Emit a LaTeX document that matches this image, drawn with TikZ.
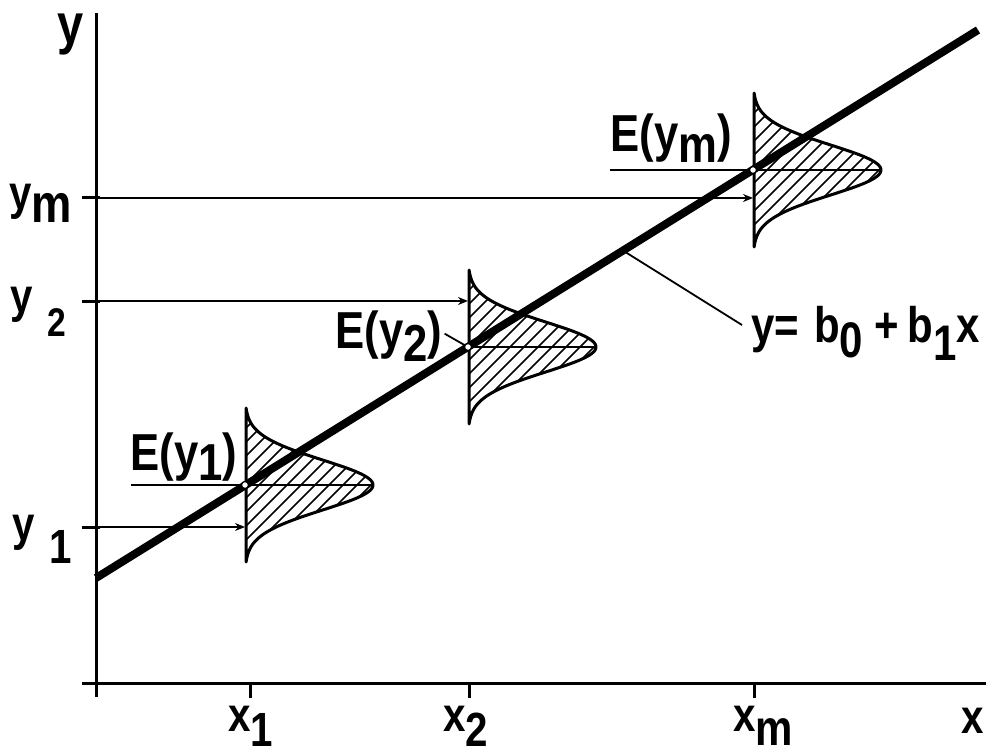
\documentclass[tikz,border=0pt]{standalone}
\usepackage{fontspec}
\newfontfamily\lbf{Liberation Sans}[FakeStretch=0.84]
\usetikzlibrary{arrows.meta,calc}
\newcommand\lo[2][0.4em]{\raisebox{-#1}{#2}}
\tikzset{
  lab/.style={font=\lbf\bfseries\fontsize{24}{24}\selectfont, inner sep=0pt},
  biglab/.style={font=\lbf\bfseries\fontsize{28}{28}\selectfont, inner sep=0pt},
  elab/.style={font=\lbf\bfseries\fontsize{26}{26}\selectfont, inner sep=0pt},
  eqlab/.style={font=\lbf\bfseries\fontsize{25}{25}\selectfont, inner sep=0pt},
  axisline/.style={line width=1.5pt},
  guide/.style={line width=0.9pt},
  regline/.style={line width=4pt},
  distline/.style={line width=1.5pt, line join=round},
  hatchline/.style={line width=0.75pt},
  tipped/.style={-{Stealth[length=5pt,width=4pt]}},
  epoint/.style={circle, draw, fill=white, line width=0.6pt, inner sep=0pt, minimum size=3.5pt},
}
\begin{document}
\begin{tikzpicture}[x=0.5pt,y=-0.5pt]
\useasboundingbox (0,0) rectangle (990,754);
% axes
\coordinate (ytop) at (96,13);
\coordinate (ybot) at (96,697);
\coordinate (xl) at (82,683);
\coordinate (xr) at (986,683);
\draw[axisline] (ybot) -- (ytop);
\draw[axisline] (xl) -- (xr);
\foreach \xx/\nm in {250/1,469/2,754/m}{
  \coordinate (xt\nm) at (\xx,683);
  \coordinate (xb\nm) at (\xx,698);
  \draw[axisline] (xt\nm) -- (xb\nm);
}
% distributions
\foreach \cx/\cy/\nm in {245/485/1, 468/347/2, 753/170/m}{
  \coordinate (D\nm) at (\cx,\cy);
  \coordinate (P\nm) at (\cx+128,\cy);
  \begin{scope}
    \clip plot[domain=-77:77,samples=90,smooth] ({\cx+128*exp(-((\x)*(\x))/1250)},{\cy+(\x)}) -- cycle;
    \foreach \k in {-7,...,15}
      \draw[hatchline] ({\cx+\k*14-100},{\cy+100}) -- ({\cx+\k*14+100},{\cy-100});
  \end{scope}
  \draw[distline] plot[domain=-77:77,samples=90,smooth] ({\cx+128*exp(-((\x)*(\x))/1250)},{\cy+(\x)}) -- cycle;
}
% y level guides
\coordinate (t1) at (82,527);
\coordinate (t2) at (82,301);
\coordinate (tm) at (82,198);
\foreach \nm in {1,2,m}{
  \draw[axisline] (t\nm) -- ++(18,0);
  \draw[guide,tipped] (t\nm) -- (t\nm -| D\nm);
}
% expectation lines
\coordinate (e1s) at (131,485);
\coordinate (ems) at (610,170);
\draw[guide] (e1s) -- (P1);
\draw[guide] (D2) -- (P2);
\draw[guide] (ems) -- (Pm);
% regression line
\coordinate (r0) at (96,578);
\coordinate (r1) at (978,30);
\draw[regline] (r0) -- (r1);
\coordinate (rl) at ($(r0)!0.5975!(r1)$);
\coordinate (rlend) at (742,325);
\draw[guide] (rl) -- (rlend);
\foreach \nm in {1,2,m}{ \node[epoint] (c\nm) at (D\nm) {}; }
% labels
\node[biglab, anchor=base west] (ylab) at (57,44) {y};
\node[lab, anchor=base west] (ymlab) at (9,210) {y\lo[0.27em]{\fontsize{27}{27}\selectfont m}};
\node[lab, anchor=base west] (y2lab) at (10,313) {y\hspace{0.3em}\lo[0.5em]{\fontsize{20}{20}\selectfont 2}};
\node[lab, anchor=base west] (y1lab) at (12,540) {y\hspace{0.3em}\lo[0.48em]{1}};
\node[lab, anchor=base west] (x1lab) at (228,731) {x\lo[0.33em]{1}};
\node[lab, anchor=base west] (x2lab) at (443,731) {x\lo[0.33em]{2}};
\node[lab, anchor=base west] (xmlab) at (733,731) {x\lo[0.3em]{\fontsize{25}{25}\selectfont m}};
\node[lab, anchor=base west] (xlab) at (961,733) {x};
\node[elab, anchor=base west] (E1) at (130,470) {E(y\lo[0.2em]{1})};
\node[elab, anchor=base west] (E2) at (335,348) {E(y\lo[0.25em]{2})};
\node[elab, anchor=base west] (Em) at (610,152) {E(y\lo[0.2em]{m})};
\draw[guide, shorten >=2pt] ($(E2.east)+(2,-2)$) -- (D2);
\node[eqlab, anchor=base west] (eq) at (751,343) {y=\hspace{0.3em}b\lo[0.3em]{0}\hspace{0.22em}+\hspace{0.18em}b\lo[0.35em]{1}x};
\end{tikzpicture}
\end{document}
